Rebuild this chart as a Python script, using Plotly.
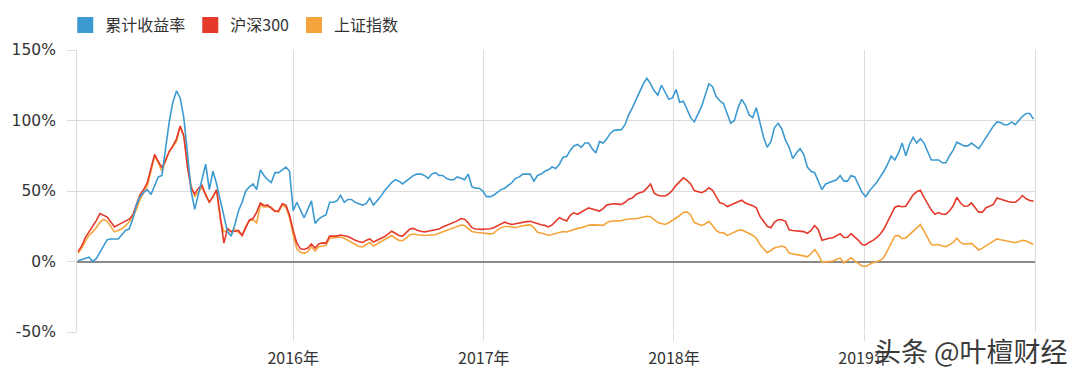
import pandas as pd
import plotly.graph_objects as go

# Weekly observations starting 2014-11-14
start_date = "2014-11-14"

# 累计收益率 (%)
cum_return = [
    0.5, 1.5, 2.5, 3, 0, 2, 6.5, 11, 15.5, 16,
    16, 16, 19, 22, 23, 30, 40, 46, 49, 51,
    47.5, 54, 60, 61, 80, 99, 113, 121, 116, 102,
    77, 50, 37, 47, 57, 69, 51, 64, 55, 44,
    32, 21, 18, 26, 36, 42, 50, 53, 55, 51,
    65, 61, 58, 56, 63, 63, 65, 67, 64, 36,
    42, 36, 31, 37, 43, 27, 30, 32, 33, 42,
    42, 43, 47, 42, 44, 44, 42, 41, 40, 41,
    45, 40, 43, 46, 50, 53, 56, 58, 57, 55,
    57, 59, 61, 62, 62, 61, 59, 62, 63, 61,
    61, 59, 58, 58, 60, 59, 58, 62, 53, 52,
    52, 50, 46, 46, 47, 49, 51, 52, 54, 56,
    59, 60, 62, 62, 62, 57, 61, 62, 64, 65,
    67, 66, 69, 74, 74.5, 79, 82, 83, 81, 84,
    84, 80, 77, 85, 84, 87, 91, 93, 93, 93.5,
    97, 104, 109, 115, 121, 126, 130, 126, 121, 118,
    125, 120, 115, 116, 122, 113, 113.7, 108, 102, 99,
    104, 110, 118, 126, 124, 117, 114, 112, 105, 98,
    100, 109, 115, 111, 104, 102, 109, 98, 88, 81,
    85, 95, 98, 94, 86, 81, 73, 77, 80, 76,
    67, 64, 63, 57, 51, 55, 56, 57, 58, 61,
    57, 57, 61, 60, 54, 49, 46, 50, 53, 56,
    60, 64, 69, 74.7, 72, 77, 84, 75, 83, 88,
    84, 87, 84, 78, 72, 72, 72, 70, 70, 75,
    79, 84.6, 83, 82, 82, 84, 82, 80, 84, 88,
    92, 96, 99, 98.5, 97, 97, 99, 97, 100, 103,
    105, 105, 101,
]

# 沪深300 (%)
hs300 = [
    7, 11, 17, 21, 25, 29, 34, 33, 31.5, 28,
    24.5, 26, 27.5, 29, 30, 33, 40, 47.5, 51, 56,
    66, 76, 71, 66.6, 72, 78, 82, 87, 96, 89,
    67, 52, 48, 52, 54, 47, 42, 46, 51, 30,
    13, 23.5, 21, 21.5, 22, 18.4, 24, 29.5, 30.5, 35,
    41.5, 39.7, 40, 38, 35.6, 36, 41, 40, 33, 22,
    13, 9, 8.5, 9.5, 12.5, 9.5, 12.5, 13.2, 13, 18,
    18.2, 18, 18.8, 18.5, 17.7, 16.5, 15, 14.2, 13.5, 15,
    16, 13.8, 15, 16, 17.5, 19.5, 21.5, 20, 18.5, 18,
    20.5, 23, 23.5, 22.2, 21.5, 21, 21.5, 22, 22.5, 23,
    24.5, 25.5, 26.5, 27.5, 28.8, 30.5, 30, 27.5, 24, 23,
    22.7, 22.8, 23, 23.2, 24, 25.3, 26.5, 27.9, 27, 26.3,
    26.8, 27.4, 28, 28.3, 28.5, 27.5, 26.8, 26, 25.6, 24.5,
    26, 28.5, 31, 29.8, 28.8, 33, 34.5, 33.5, 35, 37,
    38, 37.3, 36.8, 35.8, 37.5, 40, 40.6, 41, 40.7, 40.4,
    42, 44.2, 45, 47.5, 48.8, 49.5, 52, 55, 48.5, 47,
    46.5, 46.5, 48, 50.5, 54, 57, 59.3, 57.5, 55, 50.3,
    49.5, 48.8, 50, 52.3, 50.5, 46, 41.6, 41, 39, 40,
    41, 42.5, 43.5, 41.5, 40.5, 39.6, 38, 32, 28.5, 25,
    24, 28, 29.6, 29.6, 28.5, 22.5, 22, 21.6, 21.5, 21.2,
    20, 22, 25.5, 22.5, 15, 15.8, 16.5, 16.8, 18.3, 19.7,
    17, 17.2, 19.8, 17.5, 15, 12, 11.8, 13.7, 15, 17,
    19.5, 23, 28, 34, 38.5, 39.4, 38.8, 39.2, 43, 47.3,
    49.5, 50.5, 45.5, 40.5, 36.5, 33.5, 34.7, 33.5, 33.5, 36,
    39.5, 45.5, 41.5, 39.2, 39.4, 41.5, 38, 35, 35, 38.2,
    39.2, 40.5, 45, 44, 43, 42.5, 42, 42, 44, 46.8,
    44.5, 43.2, 42.8,
]

# 上证指数 (%)
sse = [
    6, 9.5, 14.5, 18.5, 21, 24, 28, 29.8, 28.5, 25,
    21, 22, 23.2, 25.5, 28, 31.5, 37, 44, 49, 53.5,
    64, 75, 70, 64, 71, 78, 81.5, 85, 96, 89,
    71, 54, 46, 49.5, 52.5, 48, 42, 46, 50.5, 30,
    21, 22.5, 21.5, 22.7, 20.5, 19, 25, 29, 29.5, 27.5,
    40.4, 38.5, 39, 38.5, 35.7, 35, 40, 38.5, 31, 19,
    9, 6.5, 5.8, 7, 10.5, 7.5, 10.5, 10.8, 11.5, 16.5,
    16.7, 17, 17.4, 16.5, 15, 13.5, 11.5, 10.6, 10.4, 12,
    13.5, 11, 12.5, 13.7, 15, 16.8, 18.4, 16.5, 15, 14.7,
    16.5, 19, 19.5, 19, 18.6, 18.4, 18.6, 18.8, 19, 20,
    21, 22, 23, 23.9, 24.7, 25.8, 25.5, 23.5, 21.3, 20.7,
    20.5, 20.3, 20, 19.6, 20, 22.5, 24, 24.8, 24.8, 24.2,
    24, 24.8, 25.5, 25.8, 26, 24, 20.8, 20.4, 19.5, 18.5,
    19.3, 20.2, 20.6, 21.3, 20.9, 21.8, 22.9, 23.5, 24, 25,
    25.7, 26, 26.1, 25.8, 25.6, 27.5, 28.6, 28.6, 28.6, 29,
    29.8, 30.3, 30.3, 30.3, 31, 31.8, 32.1, 31.8, 29.5, 27.6,
    27, 26.3, 27.5, 29, 31, 32.6, 34.8, 35.2, 33, 27.6,
    26.6, 25.6, 26.6, 28.5, 25.5, 22, 20.4, 20.5, 18.5, 19.6,
    20.6, 22, 22.4, 21.2, 20, 18.6, 16.5, 12, 9, 6.3,
    7.8, 9.7, 10.3, 11, 10, 6, 5.4, 5.1, 4.6, 4,
    3.3, 5.5, 8.5, 5, -0.6, -0.4, 0, 0.3, 1.4, 2.5,
    -1, 0.5, 2.6, 0.5, -1.5, -3.2, -3.5, -2.1, -0.8, -0.2,
    0.8, 3, 8, 13, 18, 18.5, 16.2, 16.7, 19, 21.8,
    24, 26.2, 21.5, 16.5, 12, 11.7, 12, 11, 10.6, 12,
    13.5, 16.5, 13.5, 12.2, 12.5, 12.8, 10.5, 8.2, 9.5, 11,
    12.8, 14.5, 16, 15.4, 14.8, 14.3, 13.8, 13.3, 14.2, 15,
    14.5, 13.2, 12,
]

series_names = ["累计收益率", "沪深300", "上证指数"]
series_colors = ["#3d9ad1", "#e5392c", "#f5a43c"]
year_ticks = ["2016-01-01", "2017-01-01", "2018-01-01", "2019-01-01"]
year_labels = ["2016年", "2017年", "2018年", "2019年"]
y_ticks = [-50, 0, 50, 100, 150]
y_labels = ["-50%", "0%", "50%", "100%", "150%"]

n = min(len(cum_return), len(hs300), len(sse))
dates = pd.date_range(start_date, periods=n, freq="7D")

fig = go.Figure()
# draw order: orange under red under blue
for vals, name, color in [(sse, series_names[2], series_colors[2]),
                          (hs300, series_names[1], series_colors[1]),
                          (cum_return, series_names[0], series_colors[0])]:
    fig.add_trace(go.Scatter(x=dates, y=vals[:n], mode="lines", name=name,
                             line=dict(color=color, width=1.6),
                             showlegend=False))

# legend entries with square swatches
for name, color in zip(series_names, series_colors):
    fig.add_trace(go.Scatter(x=[None], y=[None], mode="markers", name=name,
                             marker=dict(symbol="square", size=20, color=color),
                             showlegend=True))

grid = "#dcdcdc"
fig.update_layout(
    width=1080, height=376,
    margin=dict(l=69, r=53, t=42, b=52, autoexpand=False),
    paper_bgcolor="white", plot_bgcolor="white",
    font=dict(family="DejaVu Sans, Verdana, sans-serif", color="#333333"),
    legend=dict(orientation="h", xref="container", yref="container",
                x=0.053, xanchor="left", y=1.0, yanchor="top",
                font=dict(size=16, family="Noto Sans CJK SC", color="#333333"),
                itemsizing="trace", traceorder="normal",
                bgcolor="rgba(0,0,0,0)"),
    showlegend=True,
)
fig.update_xaxes(
    type="date", range=["2014-11-12", "2019-11-25"],
    tickvals=year_ticks, ticktext=year_labels,
    showgrid=True, gridcolor=grid, gridwidth=1,
    ticks="outside", ticklen=8, tickcolor=grid,
    showline=False, zeroline=False,
    tickfont=dict(size=16, family="Noto Sans CJK SC", color="#333333"),
    ticklabelstandoff=4,
)
fig.update_yaxes(
    range=[-50, 150], tickvals=y_ticks, ticktext=y_labels,
    showgrid=True, gridcolor=grid, gridwidth=1,
    ticks="outside", ticklen=9, tickcolor=grid,
    showline=True, mirror=True, linecolor=grid, linewidth=1,
    zeroline=True, zerolinecolor="#8a8a8a", zerolinewidth=1.5,
    tickfont=dict(size=15.5, family="DejaVu Sans", color="#333333"),
    ticklabelstandoff=8,
)

fig.add_annotation(text="头条 @叶檀财经", xref="paper", yref="paper",
                   x=0.933, y=-0.064, xanchor="center", yanchor="middle",
                   showarrow=False,
                   font=dict(size=27, family="Noto Sans CJK SC", color="#3a3a3a"))

fig.write_html("out.html")
